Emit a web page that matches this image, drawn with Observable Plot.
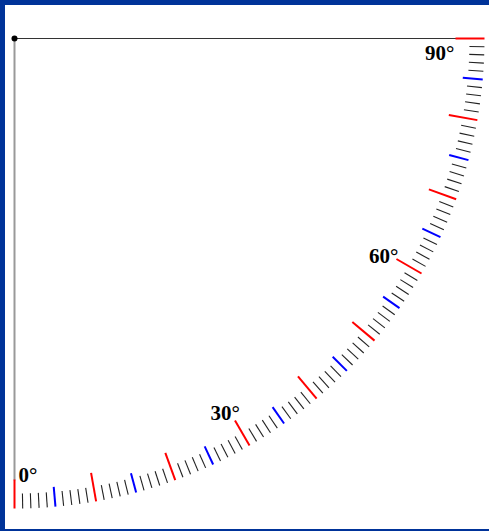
<!DOCTYPE html>
<html>
<head>
<meta charset="utf-8">
<script src="https://cdn.jsdelivr.net/npm/d3@7"></script>
<script src="https://cdn.jsdelivr.net/npm/@observablehq/plot@0.6"></script>
<style>
  html, body { margin: 0; padding: 0; background: #fff; }
  #frame {
    width: 484px; height: 524px;
    border-left: 5px solid #003399;
    border-top: 5px solid #003399;
    border-bottom: 2px solid #003399;
    background: #fff;
    overflow: hidden;
  }
  #frame svg { display: block; }
</style>
</head>
<body>
<div id="frame"></div>
<script>
// Graduation of the quarter protractor (degrees)
const degrees = d3.range(0, 91);          // one tick per degree
const majorEvery = 10;                    // red ticks
const midEvery = 5;                       // blue ticks
const labelDegrees = [0, 30, 60, 90];
const labelTexts = ["0°", "30°", "60°", "90°"];

const outerR = 470;
const innerR = {major: 441, mid: 450, minor: 455};
const axisR = 442;

const kind = d => d % majorEvery === 0 ? "major" : d % midEvery === 0 ? "mid" : "minor";
const rad = d => d * Math.PI / 180;
const px = (d, r) => r * Math.sin(rad(d));
const py = (d, r) => r * Math.cos(rad(d));

const ticks = degrees.map(d => ({deg: d, kind: kind(d)}));
const labels = labelDegrees.map((d, i) => ({deg: d, text: labelTexts[i]}));

const tickMark = (k, color, width) => Plot.link(ticks.filter(t => t.kind === k), {
  x1: t => px(t.deg, innerR[k]), y1: t => py(t.deg, innerR[k]),
  x2: t => px(t.deg, outerR), y2: t => py(t.deg, outerR),
  stroke: color, strokeWidth: width
});

const font = {fontFamily: "'Liberation Serif', 'Times New Roman', serif", fontWeight: "bold", fontSize: 21, fill: "black"};
const labelMark = (degs, opts) => Plot.text(labels.filter(l => degs.includes(l.deg)), {
  x: l => px(l.deg, innerR.major), y: l => py(l.deg, innerR.major), text: "text",
  ...font, ...opts
});

const chart = Plot.plot({
  width: 484, height: 524, margin: 0,
  x: {type: "linear", domain: [-9, 475], range: [0, 484], axis: null},
  y: {type: "linear", domain: [-33, 491], range: [0, 524], axis: null},
  marks: [
    Plot.link([{a: 0}], {x1: 0, y1: 0, x2: 0, y2: axisR, stroke: "#999", strokeWidth: 2}),
    Plot.link([{a: 90}], {x1: 0, y1: 0, x2: axisR + 14, y2: 0, stroke: "#333", strokeWidth: 1}),
    tickMark("minor", "#222", 1.1),
    tickMark("mid", "#0000ff", 2),
    tickMark("major", "#ff0000", 2),
    Plot.dot([{a: 0}], {x: 0, y: 0, r: 3, fill: "black"}),
    labelMark([0], {textAnchor: "start", lineAnchor: "bottom", dx: 4, dy: 2}),
    labelMark([30], {textAnchor: "end", lineAnchor: "bottom", dx: 5, dy: 0}),
    labelMark([60], {textAnchor: "end", lineAnchor: "bottom", dx: 2, dy: 4}),
    labelMark([90], {textAnchor: "end", lineAnchor: "bottom", dx: -1, dy: 21})
  ]
});
document.getElementById("frame").appendChild(chart);
</script>
</body>
</html>
